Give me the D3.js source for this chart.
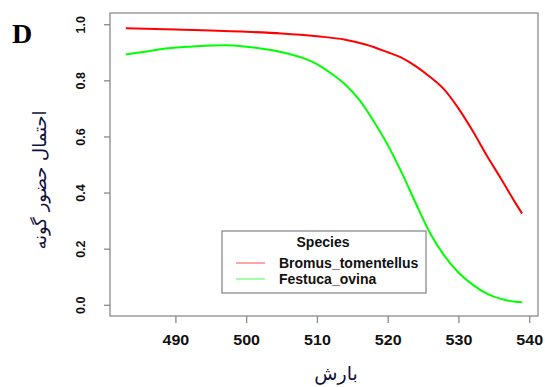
<!DOCTYPE html>
<html><head><meta charset="utf-8">
<script src="https://cdn.jsdelivr.net/npm/d3@7"></script>
<style>body{margin:0;background:#fff}svg{display:block}</style>
</head><body>
<svg id="c" width="545" height="387"></svg>
<script>
const xTicks = [490, 500, 510, 520, 530, 540];
const yTicks = [0.0, 0.2, 0.4, 0.6, 0.8, 1.0];
const seriesNames = ["Bromus_tomentellus", "Festuca_ovina"];
const seriesColors = ["#ff0000", "#00ff00"];
const bromusX = [483, 490, 500, 505, 510, 514, 517, 520, 522, 524, 526, 528, 530, 532, 534, 536, 538, 539];
const bromusY = [0.986, 0.981, 0.973, 0.967, 0.957, 0.945, 0.927, 0.900, 0.880, 0.850, 0.812, 0.767, 0.700, 0.620, 0.532, 0.450, 0.365, 0.325];
const festucaX = [483, 486, 489, 492, 495, 497, 500, 503, 506, 508, 510, 512, 514, 516, 518, 520, 522, 524, 526, 528, 530, 532, 534, 536, 538, 539];
const festucaY = [0.892, 0.903, 0.914, 0.920, 0.924, 0.925, 0.920, 0.910, 0.895, 0.880, 0.858, 0.825, 0.785, 0.730, 0.655, 0.570, 0.470, 0.360, 0.255, 0.175, 0.115, 0.072, 0.040, 0.021, 0.011, 0.009];
const yTitle = "احتمال حضور گونه";
const xTitle = "بارش";
const legendTitle = "Species";
const panelLabel = "D";

const svg = d3.select("#c");
const L = 110, R = 538, T = 13, B = 316;
const x = d3.scaleLinear().domain([480.76, 541.24]).range([L, R]);
const y = d3.scaleLinear().domain([-0.04, 1.04]).range([B, T]);
const gray = "#8a8a8a";

// box
svg.append("rect").attr("x", L).attr("y", T).attr("width", R - L).attr("height", B - T)
  .attr("fill", "none").attr("stroke", gray).attr("stroke-width", 1.3);

// x axis
const gx = svg.append("g").attr("transform", `translate(0,${B})`)
  .call(d3.axisBottom(x).tickValues(xTicks).tickSize(7).tickFormat(d3.format("d")));
gx.select(".domain").remove();
gx.selectAll("line").attr("stroke", gray).attr("stroke-width", 1.3);
gx.selectAll("text").attr("y", 29).attr("dy", 0)
  .attr("font-family", "Liberation Sans, Arial, sans-serif").attr("font-size", 15)
  .attr("font-weight", "bold").attr("fill", "#111").attr("transform", "scale(1.07,1)");

// y axis
const gy = svg.append("g").attr("transform", `translate(${L},0)`)
  .call(d3.axisLeft(y).tickValues(yTicks).tickSize(6).tickFormat(d3.format(".1f")));
gy.select(".domain").remove();
gy.selectAll("line").attr("stroke", gray).attr("stroke-width", 1.3);
gy.selectAll("text").attr("transform", "rotate(-90)").attr("x", 0).attr("y", -25).attr("dy", 0)
  .attr("text-anchor", "middle")
  .attr("font-family", "Liberation Sans, Arial, sans-serif").attr("font-size", 12.5)
  .attr("font-weight", "bold").attr("fill", "#111");

// lines
const line = d3.line().x(d => x(d[0])).y(d => y(d[1])).curve(d3.curveMonotoneX);
const series = [d3.zip(bromusX, bromusY), d3.zip(festucaX, festucaY)];
series.forEach((s, i) => {
  svg.append("path").datum(s).attr("d", line).attr("fill", "none")
    .attr("stroke", seriesColors[i]).attr("stroke-width", 2);
});

// legend
const lg = svg.append("g");
lg.append("rect").attr("x", 222).attr("y", 231).attr("width", 204).attr("height", 62)
  .attr("fill", "#fff").attr("stroke", gray).attr("stroke-width", 1.3);
lg.append("text").attr("x", 323).attr("y", 247).attr("text-anchor", "middle")
  .attr("font-family", "Liberation Sans, Arial, sans-serif").attr("font-size", 14)
  .attr("font-weight", "bold").attr("fill", "#111").text(legendTitle);
seriesNames.forEach((n, i) => {
  const yy = 263 + i * 16;
  lg.append("line").attr("x1", 236).attr("x2", 265).attr("y1", yy).attr("y2", yy)
    .attr("stroke", seriesColors[i]).attr("stroke-width", 1.3).attr("opacity", 0.55);
  lg.append("text").attr("x", 279).attr("y", yy + 5)
    .attr("font-family", "Liberation Sans, Arial, sans-serif").attr("font-size", 14)
    .attr("font-weight", "bold").attr("fill", "#111").text(n);
});

// titles
svg.append("text").attr("transform", "translate(46,180) rotate(-90)").attr("text-anchor", "middle")
  .attr("font-family", "DejaVu Sans, sans-serif").attr("font-size", 18).attr("fill", "#10103a")
  .attr("direction", "rtl").text(yTitle);
svg.append("text").attr("x", 336).attr("y", 380).attr("text-anchor", "middle")
  .attr("font-family", "DejaVu Sans, sans-serif").attr("font-size", 19).attr("fill", "#10103a")
  .attr("direction", "rtl").text(xTitle);
svg.append("text").attr("x", 12).attr("y", 43)
  .attr("font-family", "Liberation Serif, Times New Roman, serif").attr("font-size", 28)
  .attr("font-weight", "bold").attr("fill", "#000").text(panelLabel);
</script>
</body></html>
